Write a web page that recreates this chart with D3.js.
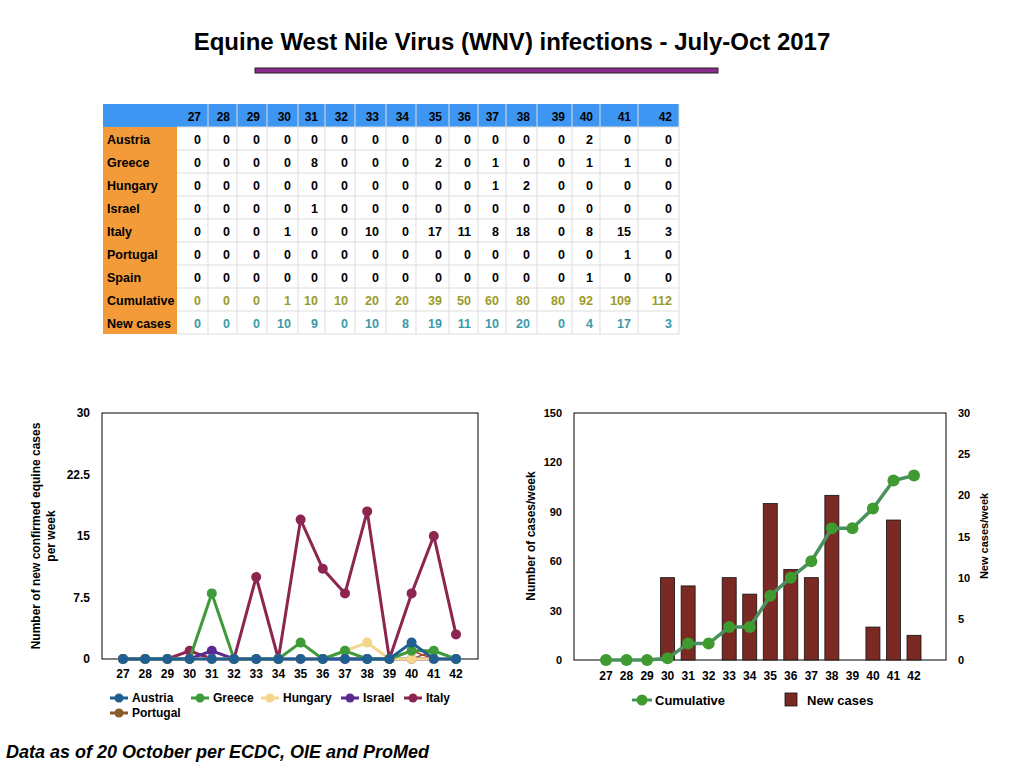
<!DOCTYPE html>
<html><head><meta charset="utf-8">
<script src="https://cdn.jsdelivr.net/npm/d3@7"></script>
<style>body{margin:0;background:#fff}text{font-family:"Liberation Sans",Arial,sans-serif}</style>
</head><body><svg id="c" width="1024" height="768"></svg>
<script>
const weeks=[27,28,29,30,31,32,33,34,35,36,37,38,39,40,41,42];
const countries=["Austria","Greece","Hungary","Israel","Italy","Portugal","Spain"];
const austria=[0,0,0,0,0,0,0,0,0,0,0,0,0,2,0,0];
const greece=[0,0,0,0,8,0,0,0,2,0,1,0,0,1,1,0];
const hungary=[0,0,0,0,0,0,0,0,0,0,1,2,0,0,0,0];
const israel=[0,0,0,0,1,0,0,0,0,0,0,0,0,0,0,0];
const italy=[0,0,0,1,0,0,10,0,17,11,8,18,0,8,15,3];
const portugal=[0,0,0,0,0,0,0,0,0,0,0,0,0,0,1,0];
const spain=[0,0,0,0,0,0,0,0,0,0,0,0,0,1,0,0];
const cumulative=[0,0,0,1,10,10,20,20,39,50,60,80,80,92,109,112];
const newCases=[0,0,0,10,9,0,10,8,19,11,10,20,0,4,17,3];
const leftTicks=[0,7.5,15,22.5,30];
const rightLeftTicks=[0,30,60,90,120,150];
const rightRightTicks=[0,5,10,15,20,25,30];

const svg=d3.select("#c");
svg.append("text").attr("x",512).attr("y",50).attr("text-anchor","middle").attr("font-size",24).attr("font-weight","bold").text("Equine West Nile Virus (WNV) infections - July-Oct 2017");
svg.append("rect").attr("x",255).attr("y",68).attr("width",463).attr("height",5).attr("fill","#8a2a8a").attr("stroke","#222").attr("stroke-width",1);

// table
const colEdges=[103,177,208,237,267,298,325,355,386,416,449,478,506,537,572,600,638,679];
const rowH=23, tTop=104;
const allRows=[austria,greece,hungary,israel,italy,portugal,spain,cumulative,newCases];
const rowNames=countries.concat(["Cumulative","New cases"]);
const rowColors=["#000","#000","#000","#000","#000","#000","#000","#9a9a2a","#3a9aa8"];
const tb=svg.append("g");
tb.append("rect").attr("x",103).attr("y",tTop).attr("width",576).attr("height",rowH).attr("fill","#3d96f2");
tb.append("rect").attr("x",103).attr("y",tTop+rowH).attr("width",74).attr("height",rowH*9).attr("fill","#f29b38");
for(let r=0;r<=9;r++){tb.append("line").attr("x1",177).attr("x2",679).attr("y1",tTop+rowH*(r+1)).attr("y2",tTop+rowH*(r+1)).attr("stroke","#ddd");}
colEdges.slice(2).forEach(x=>tb.append("line").attr("x1",x).attr("x2",x).attr("y1",tTop).attr("y2",tTop+rowH*10).attr("stroke","#ddd"));
weeks.forEach((w,i)=>tb.append("text").attr("x",colEdges[i+2]-7).attr("y",tTop+17).attr("text-anchor","end").attr("font-size",12).attr("font-weight","bold").text(w));
allRows.forEach((row,r)=>{
  const y=tTop+rowH*(r+1)+17;
  tb.append("text").attr("x",107).attr("y",y).attr("font-size",12.5).attr("font-weight","bold").text(rowNames[r]);
  row.forEach((v,i)=>tb.append("text").attr("x",colEdges[i+2]-7).attr("y",y).attr("text-anchor","end").attr("font-size",12.5).attr("font-weight","bold").attr("fill",rowColors[r]).text(v));
});

// left chart
const xl=d3.scalePoint().domain(weeks).range([123,456]);
const yl=d3.scaleLinear().domain([0,30]).range([659,413]);
const L=svg.append("g");
L.append("rect").attr("x",102).attr("y",413).attr("width",376).attr("height",246).attr("fill","none").attr("stroke","#000").attr("stroke-width",1);
leftTicks.forEach(t=>L.append("text").attr("x",90).attr("y",yl(t)+4).attr("text-anchor","end").attr("font-size",12).attr("font-weight","bold").text(t));
weeks.forEach(w=>L.append("text").attr("x",xl(w)).attr("y",678).attr("text-anchor","middle").attr("font-size",12).attr("font-weight","bold").text(w));
const t1=L.append("text").attr("transform","translate(40,536) rotate(-90)").attr("text-anchor","middle").attr("font-size",12).attr("font-weight","bold");
t1.append("tspan").attr("x",0).attr("dy",0).text("Number of new confirmed equine cases");
t1.append("tspan").attr("x",0).attr("dy",15).text("per week");
const series=[
 {n:"Spain",d:spain,c:"#c03030"},
 {n:"Portugal",d:portugal,c:"#8b5a2b"},
 {n:"Italy",d:italy,c:"#8c2650"},
 {n:"Israel",d:israel,c:"#5a2a90"},
 {n:"Hungary",d:hungary,c:"#f5d48c"},
 {n:"Greece",d:greece,c:"#3f9a3a"},
 {n:"Austria",d:austria,c:"#215f93"}];
const line=d3.line().x((d,i)=>xl(weeks[i])).y(d=>yl(d));
series.forEach(s=>{
  const thin=(s.n==="Portugal"||s.n==="Spain");
  L.append("path").attr("d",line(s.d)).attr("fill","none").attr("stroke",s.c).attr("stroke-width",thin?1.5:3);
  if(!thin) s.d.forEach((v,i)=>L.append("circle").attr("cx",xl(weeks[i])).attr("cy",yl(v)).attr("r",5).attr("fill",s.c));
});
const legL=[["Austria","#215f93",119,698],["Greece","#3f9a3a",200,698],["Hungary","#f5d48c",270,698],["Israel","#5a2a90",350,698],["Italy","#8c2650",413,698],["Portugal","#8b5a2b",119,713]];
legL.forEach(([n,c,x,y])=>{
  L.append("line").attr("x1",x-9).attr("x2",x+9).attr("y1",y).attr("y2",y).attr("stroke",c).attr("stroke-width",3);
  L.append("circle").attr("cx",x).attr("cy",y).attr("r",4.5).attr("fill",c);
  L.append("text").attr("x",x+13).attr("y",y+4).attr("font-size",12).attr("font-weight","bold").text(n);
});

// right chart
const xr=d3.scalePoint().domain(weeks).range([606,914]);
const yr=d3.scaleLinear().domain([0,150]).range([660,413]);
const yr2=d3.scaleLinear().domain([0,30]).range([660,413]);
const R=svg.append("g");
R.append("rect").attr("x",574).attr("y",413).attr("width",372).attr("height",247).attr("fill","none").attr("stroke","#000");
rightLeftTicks.forEach(t=>R.append("text").attr("x",562).attr("y",yr(t)+4).attr("text-anchor","end").attr("font-size",11).attr("font-weight","bold").text(t));
rightRightTicks.forEach(t=>R.append("text").attr("x",958).attr("y",yr2(t)+4).attr("font-size",11).attr("font-weight","bold").text(t));
weeks.forEach(w=>R.append("text").attr("x",xr(w)).attr("y",680).attr("text-anchor","middle").attr("font-size",12).attr("font-weight","bold").text(w));
R.append("text").attr("transform","translate(535,536) rotate(-90)").attr("text-anchor","middle").attr("font-size",12).attr("font-weight","bold").text("Number of cases/week");
R.append("text").attr("transform","translate(988,536) rotate(-90)").attr("text-anchor","middle").attr("font-size",11).attr("font-weight","bold").text("New cases/week");
newCases.forEach((v,i)=>{ if(v>0) R.append("rect").attr("x",xr(weeks[i])-7).attr("y",yr2(v)).attr("width",14).attr("height",yr2(0)-yr2(v)).attr("fill","#7a2a22").attr("stroke","#111").attr("stroke-width",0.8);});
R.append("path").attr("d",d3.line().x((d,i)=>xr(weeks[i])).y(d=>yr(d))(cumulative)).attr("fill","none").attr("stroke","#4a9160").attr("stroke-width",3.5);
cumulative.forEach((v,i)=>R.append("circle").attr("cx",xr(weeks[i])).attr("cy",yr(v)).attr("r",6).attr("fill","#3f9a30"));
R.append("line").attr("x1",632).attr("x2",652).attr("y1",700).attr("y2",700).attr("stroke","#4a9160").attr("stroke-width",3);
R.append("circle").attr("cx",642).attr("cy",700).attr("r",5.5).attr("fill","#3f9a30");
R.append("text").attr("x",655).attr("y",705).attr("font-size",13).attr("font-weight","bold").text("Cumulative");
R.append("rect").attr("x",785).attr("y",693).attr("width",12).attr("height",13).attr("fill","#7a2a22").attr("stroke","#111").attr("stroke-width",0.8);
R.append("text").attr("x",807).attr("y",705).attr("font-size",13).attr("font-weight","bold").text("New cases");

svg.append("text").attr("x",6).attr("y",758).attr("font-size",18).attr("font-weight","bold").attr("font-style","italic").text("Data as of 20 October per ECDC, OIE and ProMed");
</script></body></html>
